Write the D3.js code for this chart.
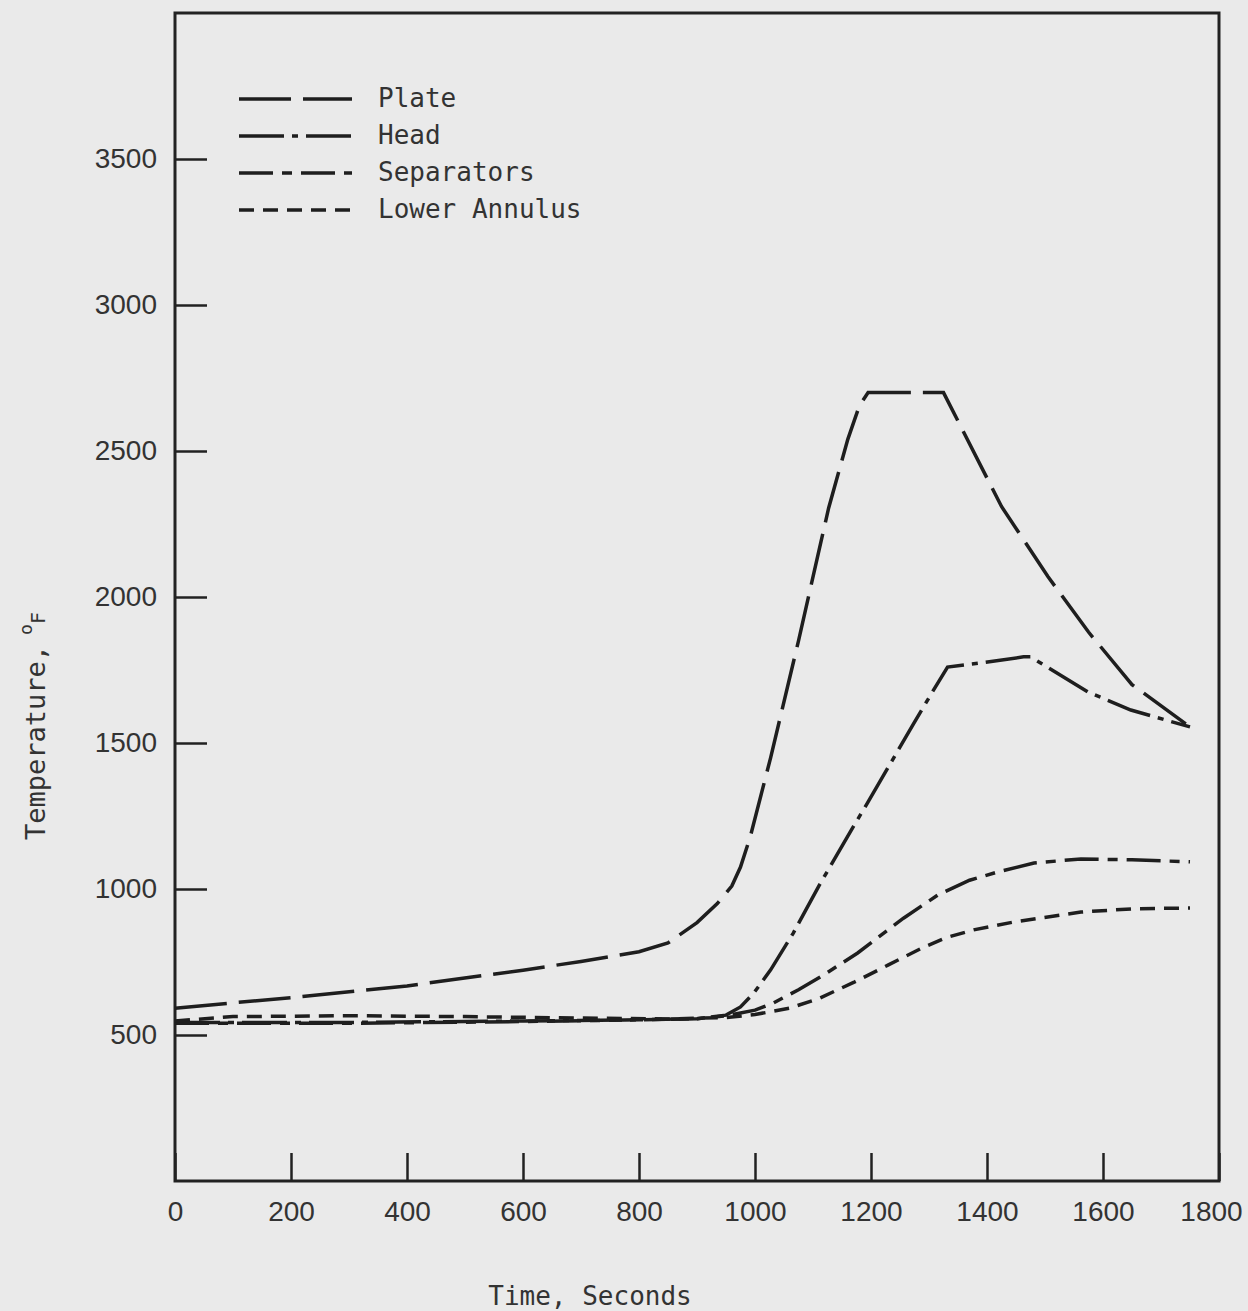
<!DOCTYPE html>
<html>
<head>
<meta charset="utf-8">
<script src="https://cdn.jsdelivr.net/npm/d3@7"></script>
<style>
  body { margin: 0; background: #eaeaea; }
  .tick text { font-family: "Liberation Sans", Arial, sans-serif; font-size: 28px; fill: #333; }
  .tick line { stroke: #222; stroke-width: 2.5; }
  .mono { font-family: "DejaVu Sans Mono", monospace; fill: #333; }
</style>
</head>
<body>
<div id="chart"></div>
<script>
// tick values
var timeTicks = [0, 200, 400, 600, 800, 1000, 1200, 1400, 1600, 1800];
var tempTicks = [500, 1000, 1500, 2000, 2500, 3000, 3500];

// series, [time s, temperature F]
var plate = [[0,592],[200,628],[400,668],[600,722],[700,752],[800,785],[850,815],[900,885],
  [935,950],[960,1010],[975,1075],[992,1180],[1027,1450],[1075,1850],[1127,2305],[1160,2540],
  [1180,2655],[1195,2700],[1325,2700],[1425,2310],[1505,2070],[1575,1880],[1650,1700],[1750,1555]];

var head = [[0,543],[300,543],[600,548],[800,552],[900,556],[950,568],[975,596],[998,644],
  [1027,723],[1066,849],[1110,1010],[1159,1178],[1194,1295],[1235,1435],[1274,1568],[1308,1682],
  [1332,1760],[1389,1774],[1463,1795],[1475,1795],[1574,1675],[1648,1613],[1750,1555]];

var separators = [[0,540],[300,540],[600,546],[800,552],[900,556],[950,566],[1000,585],[1032,610],
  [1075,655],[1118,705],[1177,781],[1256,900],[1315,979],[1370,1030],[1418,1058],[1481,1089],
  [1562,1103],[1650,1100],[1750,1093]];

var lowerAnnulus = [[0,548],[100,563],[300,566],[500,563],[700,558],[850,555],[950,560],[1000,570],
  [1060,592],[1110,625],[1170,680],[1230,740],[1290,800],[1332,835],[1377,860],[1446,887],
  [1481,897],[1562,921],[1650,932],[1750,935]];

var seriesNames = ["Plate", "Head", "Separators", "Lower Annulus"];
var seriesData = [plate, head, separators, lowerAnnulus];
var dashes = ["52,12", "45,8,6,8", "34,9,10,9", "15,9"];

var width = 1248, height = 1311;

var svg = d3.select("#chart").append("svg")
    .attr("width", width)
    .attr("height", height);

var x = d3.scaleLinear().domain([0, 1800]).range([175, 1219]);
var y = d3.scaleLinear().domain([0, 4000]).range([1181, 13]);

// frame
svg.append("rect")
    .attr("x", x(0)).attr("y", y(4000))
    .attr("width", x(1800) - x(0)).attr("height", y(0) - y(4000))
    .attr("fill", "none").attr("stroke", "#222").attr("stroke-width", 3);

// axes, ticks pointing inward
var yAxis = svg.append("g")
    .attr("transform", `translate(${x(0)},0)`)
    .call(d3.axisLeft(y).tickValues(tempTicks).tickSize(-32).tickPadding(18).tickFormat(d3.format("d")));
yAxis.select(".domain").remove();

var xAxis = svg.append("g")
    .attr("transform", `translate(0,${y(0)})`)
    .call(d3.axisBottom(x).tickValues(timeTicks).tickSize(-28).tickPadding(20).tickFormat(d3.format("d")));
xAxis.select(".domain").remove();
// last label sits a bit left of its tick, as in the original
xAxis.selectAll(".tick text").filter(d => d === 1800).attr("dx", -8);

// lines
var line = d3.line()
    .x(d => x(d[0]))
    .y(d => y(d[1]));

svg.selectAll("path.series")
    .data(seriesData)
    .enter()
    .append("path")
    .attr("class", "series")
    .attr("d", line)
    .attr("fill", "none")
    .attr("stroke", "#1e1e1e")
    .attr("stroke-width", 3.5)
    .attr("stroke-dasharray", (d, i) => dashes[i]);

// legend
var legend = svg.append("g");
var legendY = [99, 136, 173, 210];
seriesNames.forEach(function(name, i) {
    legend.append("line")
        .attr("x1", 239).attr("x2", 352)
        .attr("y1", legendY[i]).attr("y2", legendY[i])
        .attr("stroke", "#1e1e1e")
        .attr("stroke-width", 3.5)
        .attr("stroke-dasharray", dashes[i]);
    legend.append("text")
        .attr("class", "mono")
        .attr("x", 378)
        .attr("y", legendY[i] + 8)
        .attr("font-size", 26)
        .text(name);
});

// axis titles
svg.append("text")
    .attr("class", "mono")
    .attr("x", 590).attr("y", 1305)
    .attr("text-anchor", "middle")
    .attr("font-size", 26)
    .text("Time, Seconds");

var yTitle = svg.append("text")
    .attr("class", "mono")
    .attr("transform", "translate(45,840) rotate(-90)")
    .attr("font-size", 27);
yTitle.append("tspan").text("Temperature,");
yTitle.append("tspan").attr("dx", 10).attr("dy", -13).attr("font-size", 18).text("o");
yTitle.append("tspan").attr("dy", 13).attr("font-size", 20).text("F");
</script>
</body>
</html>
